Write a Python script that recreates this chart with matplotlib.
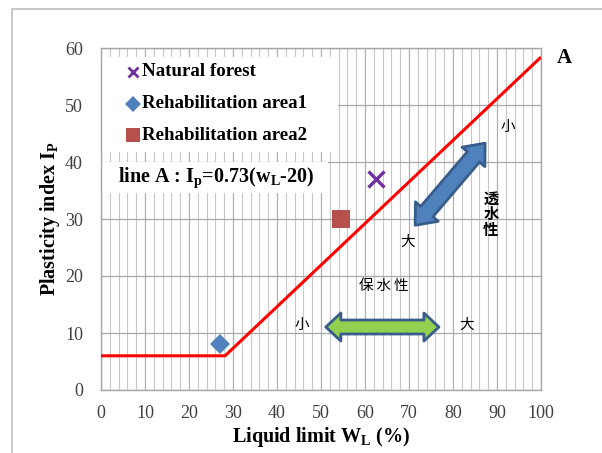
import numpy as np
import matplotlib
matplotlib.use("Agg")
import matplotlib.pyplot as plt
from matplotlib.patches import Polygon, Rectangle
from matplotlib.transforms import IdentityTransform

plt.rcParams['font.family'] = ['Liberation Serif', 'Noto Sans CJK JP']
plt.rcParams['mathtext.fontset'] = 'custom'
plt.rcParams['mathtext.rm'] = 'Liberation Serif:bold'
plt.rcParams['mathtext.bf'] = 'Liberation Serif:bold'
plt.rcParams['mathtext.it'] = 'Liberation Serif:bold'

# data
series_names = ['Natural forest', 'Rehabilitation area1', 'Rehabilitation area2']
wl_values = [62.5, 27.0, 54.5]
ip_values = [37.0, 8.0, 30.0]
line_wl = [0, 28.2, 100]
line_ip = [6.0, 6.0, 58.4]
x_ticks = list(range(0, 101, 10))
y_ticks = list(range(0, 61, 10))

fig = plt.figure(figsize=(6.02, 4.53), dpi=100)
fig.patch.set_facecolor('white')
# figure border
fig.add_artist(Rectangle((12/602, -0.1), 1.2, (453-9)/453 + 0.1, transform=fig.transFigure,
                         fill=False, ec='#BFBFBF', lw=1.2))

ax = fig.add_axes([101/602, (453-390)/453, 440/602, 342/453])
ax.set_xlim(0, 100)
ax.set_ylim(0, 60)
ax.set_xticks(x_ticks)
ax.set_yticks(y_ticks)
ax.set_xticks(np.arange(0, 101, 2), minor=True)
ax.tick_params(which='both', length=0)
ax.tick_params(labelsize=13, labelcolor='#404040')
ax.tick_params(axis='x', pad=11)
ax.tick_params(axis='y', pad=13)
ax.grid(axis='x', which='minor', color='#C8C8C8', lw=0.8)
ax.grid(axis='x', which='major', color='#B0B0B0', lw=0.9)
ax.grid(axis='y', which='major', color='#A8A8A8', lw=0.9)
ax.set_axisbelow(True)
for s in ax.spines.values():
    s.set_color('#A6A6A6')
    s.set_linewidth(1.0)

# white boxes (legend, equation)
ax.add_patch(Rectangle((0, 41.8), 53.9, 58.5-41.8, fc='white', ec='none', zorder=1.5))
ax.add_patch(Rectangle((0, 34.6), 51.6, 40.0-34.6, fc='white', ec='none', zorder=1.5))

ax.plot(line_wl, line_ip, color='#FF0000', lw=2.2, zorder=3, solid_capstyle='butt')

styles = [dict(marker='x', color='#7030A0', ms=11, mew=2.4),
          dict(marker='D', color='#4F81BD', ms=10, mew=0),
          dict(marker='s', color='#B5504D', ms=13, mew=0)]
for name, x, y, st in zip(series_names, wl_values, ip_values, styles):
    ax.plot([x], [y], linestyle='none', zorder=4, **st)

# legend entries drawn manually
leg_y = [55.8, 50.2, 44.7]
leg_st = [dict(marker='x', color='#7030A0', ms=7, mew=2.0),
          dict(marker='D', color='#4F81BD', ms=8, mew=0),
          dict(marker='s', color='#B5504D', ms=10, mew=0)]
for name, yy, st in zip(series_names, leg_y, leg_st):
    ax.plot([7.2], [yy], linestyle='none', zorder=4, clip_on=False, **st)
    ax.text(9.3, yy, name, fontsize=13.6, fontweight='bold', va='center', ha='left', zorder=4)

ax.text(3.8, 37.3, r'line A : $\mathbf{I_p}$=0.73($\mathbf{w_L}$-20)', fontsize=14.5,
        fontweight='bold', va='center', ha='left', zorder=4)

ax.text(103.5, 58.2, 'A', fontsize=15, fontweight='bold', va='center', ha='left', clip_on=False)

ax.set_xlabel(r'Liquid limit $\mathbf{W_L}$ (%)', fontsize=14.5, fontweight='bold', va='center')
ax.set_ylabel(r'Plasticity index $\mathbf{I_P}$', fontsize=14.5, fontweight='bold', va='center')
ax.xaxis.set_label_coords(0.5, (390-437)/342)
ax.yaxis.set_label_coords((50-101)/440, 0.5)

jp = ['Noto Sans CJK JP', 'DejaVu Sans']
ax.text(92.5, 46.2, '小', fontsize=10.5, family=jp, ha='center', va='center')
ax.text(69.8, 26.0, '大', fontsize=10.5, family=jp, ha='center', va='center')
ax.text(88.6, 30.8, '透\n水\n性', fontsize=11, family=jp, fontweight='bold', ha='center', va='center', linespacing=1.0)
ax.text(64.3, 18.2, '保\u2009水\u2009性', fontsize=10.5, family=jp, ha='center', va='center')
ax.text(45.7, 11.4, '小', fontsize=10.5, family=jp, ha='center', va='center')
ax.text(83.2, 11.4, '大', fontsize=10.5, family=jp, ha='center', va='center')


def double_arrow(p0, p1, bw, hw, hl, fc, ec):
    t = ax.transData
    a = np.array(t.transform(p0))
    b = np.array(t.transform(p1))
    d = b - a
    L = np.hypot(*d)
    u = d / L
    n = np.array([-u[1], u[0]])
    pts = [a, a + u*hl + n*hw/2, a + u*hl + n*bw/2, b - u*hl + n*bw/2, b - u*hl + n*hw/2,
           b, b - u*hl - n*hw/2, b - u*hl - n*bw/2, a + u*hl - n*bw/2, a + u*hl - n*hw/2]
    poly = Polygon(pts, closed=True, fc=fc, ec=ec, lw=2.0, transform=IdentityTransform(), zorder=5, joinstyle='round')
    fig.add_artist(poly)

double_arrow((71.4, 28.9), (87.3, 43.3), 16, 30, 18, '#4F81BD', '#385D8A')
double_arrow((51.1, 11.05), (76.8, 11.05), 14, 28, 15, '#92D050', '#385D8A')

fig.savefig('out.png', dpi=100, facecolor='white')
